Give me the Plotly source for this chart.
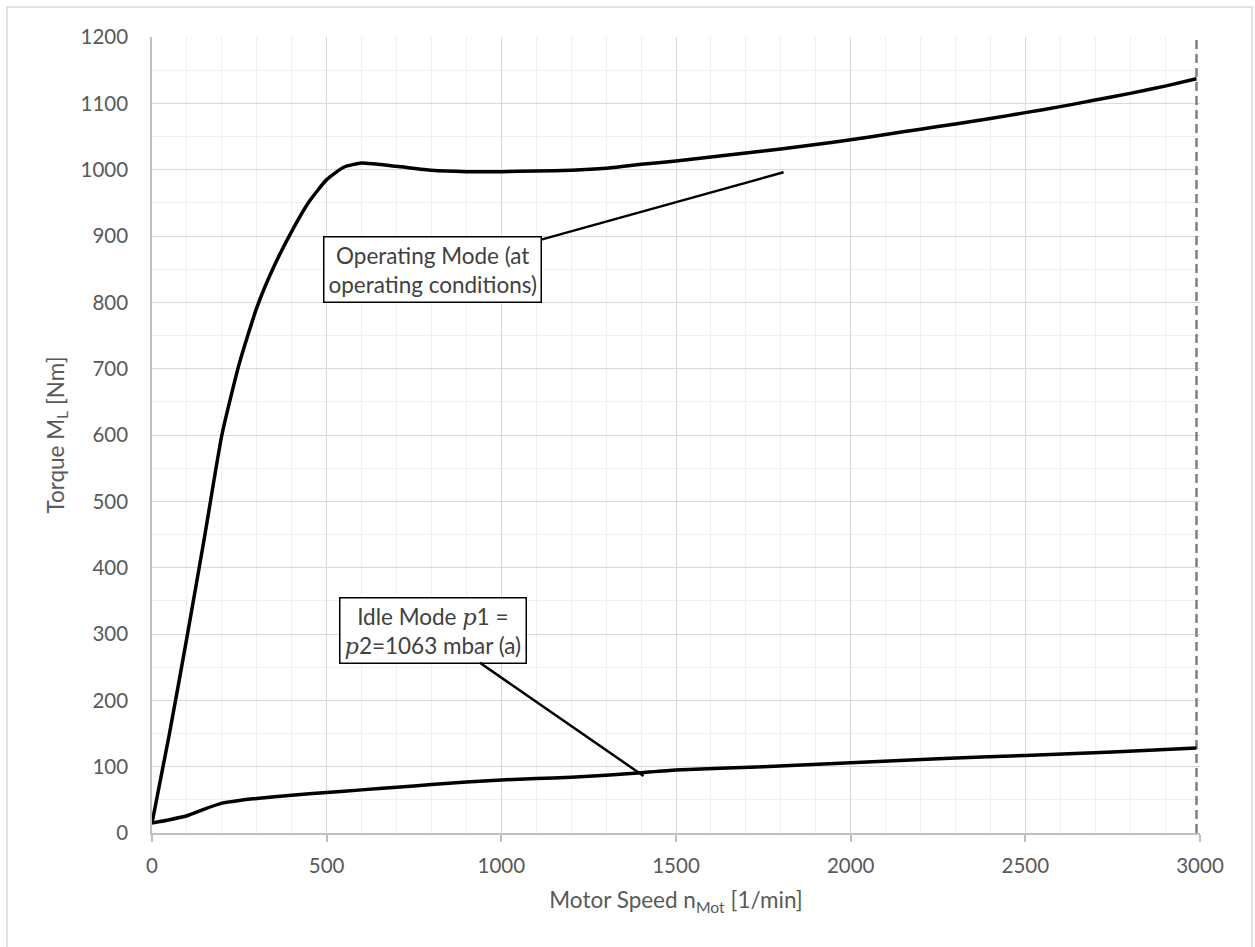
import plotly.graph_objects as go

# Operating mode torque curve (motor speed in 1/min, torque in Nm)
op_speed = [0, 50, 100, 150, 200, 250, 300, 350, 405, 450, 500, 550, 600, 700, 800,
            900, 1000, 1100, 1200, 1300, 1400, 1500, 1600, 1700, 1800, 1900, 2000,
            2100, 2200, 2300, 2400, 2500, 2600, 2700, 2800, 2900, 2990]
op_torque = [15, 150, 295, 445, 600, 708, 792, 855, 912, 952, 985, 1004, 1010, 1005, 999,
             997, 997, 998, 999, 1002, 1008, 1013, 1019, 1025, 1031, 1038, 1045,
             1053, 1061, 1069, 1077, 1086, 1095, 1105, 1115, 1126, 1137]

# Idle mode torque curve
idle_speed = [0, 50, 100, 150, 200, 250, 300, 400, 500, 600, 700, 800, 900, 1000, 1100,
              1200, 1300, 1400, 1500, 1750, 2000, 2250, 2500, 2750, 2990]
idle_torque = [15, 20, 26, 36, 45, 49, 52, 57, 61, 65, 69, 73, 77, 80, 82,
               84, 87, 91, 95, 100, 106, 112, 117, 122, 128]

# Maximum speed marker
max_speed = 2990
torque_range = [0, 1200]

# Callout targets and label centres
op_label = "Operating Mode (at<br>operating conditions)"
op_tip = (1808, 996)
op_box = (803, 849)
pmath = "<span style='font-family:DejaVu Serif'><i>p</i></span>"
idle_label = f"Idle Mode {pmath}1 =<br>{pmath}2=1063 mbar (a)"
idle_tip = (1407, 86)
idle_box = (803, 306)

FONT = "Lato"
GREY_TXT = "#595959"

fig = go.Figure()

fig.add_trace(go.Scatter(
    x=[max_speed, max_speed], y=torque_range, mode="lines",
    line=dict(color="#7f7f7f", width=2.5, dash="9px,5px"),
    hoverinfo="skip", showlegend=False))

fig.add_trace(go.Scatter(
    x=op_speed, y=op_torque, mode="lines", name="Operating Mode",
    line=dict(color="black", width=3.5, shape="spline", smoothing=0.5),
    showlegend=False))

fig.add_trace(go.Scatter(
    x=idle_speed, y=idle_torque, mode="lines", name="Idle Mode",
    line=dict(color="black", width=3.5, shape="spline", smoothing=0.5),
    showlegend=False))

for text, tip, box in [(op_label, op_tip, op_box), (idle_label, idle_tip, idle_box)]:
    fig.add_annotation(
        x=tip[0], y=tip[1], ax=box[0], ay=box[1], xref="x", yref="y",
        axref="x", ayref="y", text=text, showarrow=True, arrowhead=0,
        arrowwidth=2.5, arrowcolor="black", bgcolor="white",
        bordercolor="black", borderwidth=1.5, borderpad=4,
        font=dict(family=FONT, size=22.5, color="#404040"), align="center")

# Outer chart frame
fig.add_shape(type="rect", xref="paper", yref="paper",
              x0=-0.1384, x1=1.0496, y0=-0.16, y1=1.0377,
              line=dict(color="#d9d9d9", width=1.5), fillcolor="rgba(0,0,0,0)",
              layer="below")

fig.update_layout(
    width=1255, height=947,
    margin=dict(l=152, r=55, t=37, b=114),
    paper_bgcolor="white", plot_bgcolor="white",
    font=dict(family=FONT, size=20, color=GREY_TXT),
    xaxis=dict(
        range=[0, 3000], dtick=500, tick0=0,
        showgrid=True, gridcolor="#d9d9d9", gridwidth=1.3,
        minor=dict(dtick=100, showgrid=True, gridcolor="#f0f0f0", gridwidth=1.3),
        showline=True, linecolor="#bfbfbf", linewidth=1.5,
        ticks="outside", ticklen=7, tickcolor="#bfbfbf", tickwidth=1.5,
        ticklabelstandoff=7,
        tickfont=dict(family=FONT, size=20.5, color=GREY_TXT),
        title=dict(text="Motor Speed n<sub>Mot</sub> [1/min]",
                   font=dict(family=FONT, size=22.5, color=GREY_TXT), standoff=16),
        zeroline=False,
    ),
    yaxis=dict(
        range=[0, 1200], dtick=100, tick0=0,
        showgrid=True, gridcolor="#d9d9d9", gridwidth=1.3,
        minor=dict(dtick=50, showgrid=True, gridcolor="#f0f0f0", gridwidth=1.3),
        showline=True, linecolor="#bfbfbf", linewidth=1.5,
        ticks="", ticklabelstandoff=18,
        tickfont=dict(family=FONT, size=20.5, color=GREY_TXT),
        title=dict(text="Torque M<sub>L</sub> [Nm]",
                   font=dict(family=FONT, size=22.5, color=GREY_TXT), standoff=10),
        zeroline=False,
    ),
)

fig.write_html("out.html")
